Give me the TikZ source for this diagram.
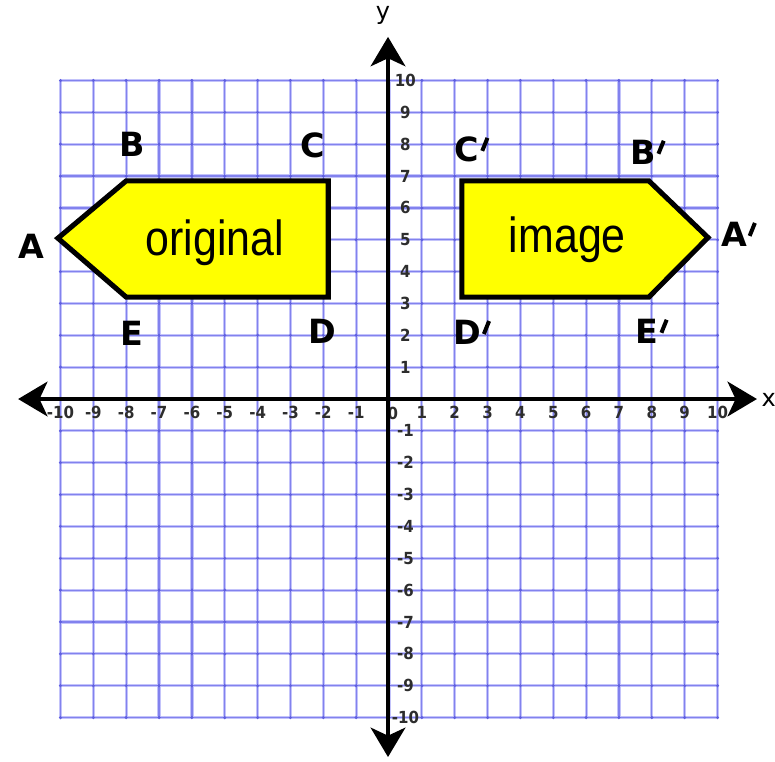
\documentclass[tikz,border=0pt]{standalone}
\usepackage{fontspec}
\setmainfont{DejaVu Sans}
\newfontfamily\arialfont{Liberation Sans}
\usetikzlibrary{arrows.meta}
\definecolor{gridhalo}{RGB}{195,195,250}
\definecolor{gridblue}{RGB}{130,130,238}
\definecolor{dotblue}{RGB}{95,95,225}
\definecolor{shapeyellow}{RGB}{255,255,0}
\definecolor{ticktext}{RGB}{45,45,45}
\newcommand{\prm}{\kern0.03em\raisebox{0.33em}{\rotatebox{-22}{\rule{0.12em}{0.42em}}}\kern-0.06em}
\begin{document}
\begin{tikzpicture}[x=24.6375pt,y=23.8875pt,
  gridback/.style={draw=gridhalo, line width=2.4pt},
  gridline/.style={draw=gridblue, line width=0.9pt},
  axisline/.style={line width=3pt, black, {Stealth[length=22pt,width=26pt,inset=6pt]}-{Stealth[length=22pt,width=26pt,inset=6pt]}},
  figshape/.style={draw=black, fill=shapeyellow, line width=3.8pt, line join=miter},
  vlabel/.style={font=\fontsize{25}{25}\selectfont\bfseries, inner sep=0pt},
  figtext/.style={font=\arialfont\fontsize{37}{37}\selectfont, inner sep=0pt, xscale=0.87},
  ticklbl/.style={font=\fontsize{12.5}{12.5}\selectfont\bfseries, text=ticktext, inner sep=0pt, xscale=0.9},
  axislbl/.style={font=\fontsize{18}{18}\selectfont, inner sep=0pt}]

\useasboundingbox (-11.842,-11.366) rectangle (11.750,12.528);
\fill[white] (-11.842,-11.366) rectangle (11.750,12.528);

% grid
\foreach \i in {-10,...,10} {
  \draw[gridback] (\i,-10) -- (\i,10);
  \draw[gridback] (-10,\i) -- (10,\i);
}
\foreach \i in {-10,...,10} {
  \draw[gridline] (\i,-10) -- (\i,10);
  \draw[gridline] (-10,\i) -- (10,\i);
}
\foreach \i in {-10,...,10} \foreach \j in {-10,...,10} \fill[dotblue] (\i,\j) circle (1.3pt);

% original figure
\coordinate (A) at (-10.08,5.05);
\coordinate (B) at (-8,6.85);
\coordinate (C) at (-1.85,6.85);
\coordinate (D) at (-1.85,3.2);
\coordinate (E) at (-8,3.2);
\draw[figshape] (A) -- (B) -- (C) -- (D) -- (E) -- cycle;

% image figure
\coordinate (A') at (9.71,5.07);
\coordinate (B') at (7.91,6.85);
\coordinate (C') at (2.22,6.85);
\coordinate (D') at (2.22,3.2);
\coordinate (E') at (7.91,3.2);
\draw[figshape] (A') -- (B') -- (C') -- (D') -- (E') -- cycle;

\node[figtext] (torig) at (-5.30,4.90) {original};
\node[figtext] (timg) at (5.43,4.99) {image};

% vertex labels
\node[vlabel] (lA) at (-10.90,4.80) {A};
\node[vlabel] (lB) at (-7.82,8.01) {B};
\node[vlabel] (lC) at (-2.31,7.97) {C};
\node[vlabel] (lD) at (-2.04,2.14) {D};
\node[vlabel] (lE) at (-7.82,2.07) {E};
\node[vlabel] (lA') at (10.62,5.18) {A\prm};
\node[vlabel] (lB') at (7.85,7.76) {B\prm};
\node[vlabel] (lC') at (2.50,7.85) {C\prm};
\node[vlabel] (lD') at (2.50,2.10) {D\prm};
\node[vlabel] (lE') at (7.98,2.14) {E\prm};

% tick labels
\foreach \i in {-10,...,-1,1,2,...,10} {
  \node[ticklbl] (tx\i) at (\i,-0.42) {\i};
  \node[ticklbl] (ty\i) at (0.5,\i) {\i};
}
\node[ticklbl] (t0) at (0.12,-0.44) {0};

% axes
\coordinate (xl) at (-11.29,0);
\coordinate (xr) at (11.20,0);
\coordinate (yt) at (-0.03,11.37);
\coordinate (yb) at (-0.03,-11.24);
\draw[axisline] (xl) -- (xr);
\draw[axisline] (yb) -- (yt);
\node[axislbl] (xlab) at (11.56,-0.03) {x};
\node[axislbl] (ylab) at (-0.18,12.03) {y};
\end{tikzpicture}
\end{document}
